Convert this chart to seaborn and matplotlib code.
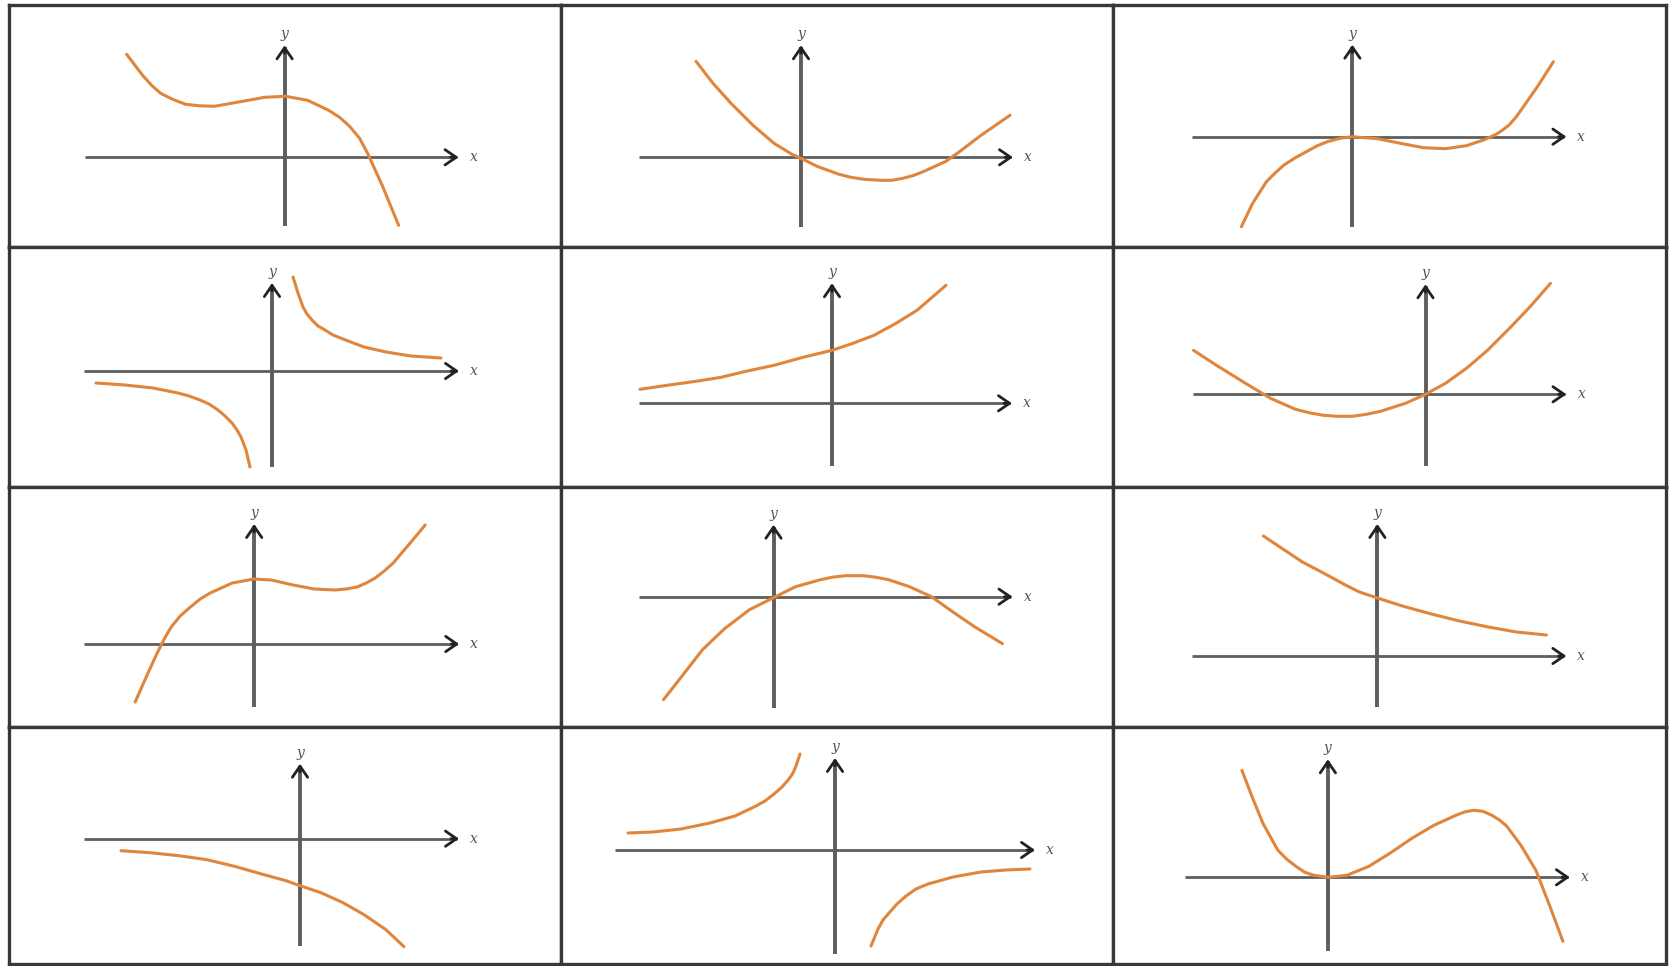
import matplotlib
matplotlib.use('Agg')
import seaborn as sns
import matplotlib.pyplot as plt

# curve values, 1 unit = 10 px, origin at the axis crossing
P1_X = [-15.8, -14.2, -13.3, -12.4, -11.2, -9.9, -8.5, -7.0, -4.2, -2.0, 0.1, 2.3, 4.4, 5.5, 6.5, 7.5, 8.3, 9.8, 11.4]
P1_Y = [10.3, 8.2, 7.2, 6.4, 5.8, 5.3, 5.15, 5.1, 5.6, 6.0, 6.1, 5.7, 4.7, 4.0, 3.1, 1.9, 0.4, -2.9, -6.8]

P2_X = [-10.5, -8.8, -7.0, -4.8, -2.7, -0.9, 0.0, 1.6, 3.8, 5.0, 6.3, 8.0, 9.1, 10.2, 11.3, 12.3, 14.5, 15.9, 18.0, 20.9]
P2_Y = [9.6, 7.4, 5.4, 3.2, 1.4, 0.3, -0.1, -0.9, -1.7, -2.0, -2.2, -2.3, -2.3, -2.1, -1.8, -1.4, -0.4, 0.6, 2.2, 4.2]

P3_X = [-11.1, -10.0, -8.6, -7.7, -6.8, -5.7, -4.6, -3.5, -2.5, -1.2, 0.0, 2.5, 5.0, 7.1, 9.3, 11.4,
        13.2, 14.3, 15.0, 15.7, 16.4, 17.1, 18.5, 20.1]
P3_Y = [-9.0, -6.7, -4.5, -3.6, -2.8, -2.1, -1.5, -0.9, -0.5, -0.15, 0.0, -0.2, -0.7, -1.1, -1.2, -0.9,
        -0.3, 0.2, 0.65, 1.2, 2.0, 3.0, 5.0, 7.5]

P4_LEFT_X = [-17.6, -14.7, -11.9, -9.4, -8.3, -7.2, -6.3, -5.4, -4.7, -4.0, -3.5, -3.1, -2.6, -2.2]
P4_LEFT_Y = [-1.2, -1.4, -1.7, -2.2, -2.5, -2.9, -3.3, -3.9, -4.5, -5.2, -5.9, -6.6, -7.9, -9.6]
P4_RIGHT_X = [2.1, 2.6, 3.1, 3.5, 4.0, 4.6, 5.3, 6.1, 7.1, 9.2, 11.4, 13.9, 16.9]
P4_RIGHT_Y = [9.4, 7.8, 6.4, 5.7, 5.1, 4.5, 4.1, 3.6, 3.2, 2.4, 1.9, 1.5, 1.3]

P5_X = [-19.2, -16.5, -13.6, -11.1, -8.6, -5.8, -2.9, 0.0, 2.1, 4.2, 6.4, 8.5, 9.9, 11.4]
P5_Y = [1.4, 1.8, 2.2, 2.6, 3.2, 3.8, 4.6, 5.3, 6.0, 6.8, 8.0, 9.3, 10.5, 11.8]

P6_X = [-23.2, -20.9, -18.0, -15.5, -13.0, -11.6, -10.2, -8.8, -7.3, -5.9, -4.5, -2.0, 0.0, 2.0, 4.1,
        6.2, 8.4, 10.5, 12.5]
P6_Y = [4.4, 2.9, 1.1, -0.4, -1.5, -1.85, -2.1, -2.2, -2.2, -2.0, -1.7, -0.9, 0.0, 1.1, 2.6,
        4.4, 6.6, 8.8, 11.1]

P7_X = [-11.9, -10.8, -9.7, -9.0, -8.3, -7.4, -6.5, -5.4, -4.4, -2.2, 0.0, 1.7, 3.9, 6.0, 8.1, 9.2,
        10.3, 11.2, 12.1, 13.0, 13.9, 15.6, 17.1]
P7_Y = [-5.8, -3.3, -0.9, 0.5, 1.7, 2.8, 3.6, 4.5, 5.1, 6.1, 6.5, 6.4, 5.9, 5.5, 5.4, 5.5,
        5.7, 6.1, 6.6, 7.3, 8.1, 10.1, 11.9]

P8_X = [-11.0, -9.2, -7.1, -4.9, -2.4, 0.0, 2.2, 4.7, 5.9, 7.2, 9.0, 10.2, 11.5, 13.6, 15.8, 17.9, 20.1, 22.9]
P8_Y = [-10.3, -8.0, -5.3, -3.2, -1.3, -0.1, 1.0, 1.7, 1.95, 2.1, 2.1, 1.95, 1.7, 1.0, 0.0, -1.5, -3.0, -4.7]

P9_X = [-11.4, -9.6, -7.5, -5.4, -3.2, -1.8, 0.0, 2.5, 5.4, 8.2, 11.1, 13.9, 16.9]
P9_Y = [12.0, 10.8, 9.4, 8.3, 7.1, 6.4, 5.8, 5.0, 4.2, 3.5, 2.9, 2.4, 2.1]

P10_X = [-17.9, -15.0, -12.1, -9.3, -6.4, -3.6, -1.4, 0.0, 2.1, 4.3, 6.4, 8.6, 10.4]
P10_Y = [-1.2, -1.4, -1.7, -2.1, -2.8, -3.6, -4.2, -4.7, -5.4, -6.4, -7.6, -9.1, -10.8]

P11_LEFT_X = [-20.7, -18.2, -15.4, -12.5, -10.0, -7.9, -7.0, -6.1, -5.3, -4.6, -4.2, -3.9, -3.5]
P11_LEFT_Y = [1.7, 1.8, 2.1, 2.7, 3.4, 4.4, 4.9, 5.6, 6.3, 7.1, 7.7, 8.4, 9.6]
P11_RIGHT_X = [3.6, 4.3, 4.8, 5.4, 6.2, 7.1, 8.1, 9.3, 11.8, 14.6, 17.1, 19.5]
P11_RIGHT_Y = [-9.6, -7.9, -7.0, -6.3, -5.4, -4.6, -3.9, -3.4, -2.7, -2.2, -2.0, -1.9]

P12_X = [-8.6, -7.6, -6.5, -5.0, -4.1, -3.2, -2.3, -1.4, 0.0, 1.9, 4.1, 6.2, 8.4, 10.6, 12.8, 13.7,
         14.6, 15.5, 16.4, 17.2, 17.9, 19.3, 20.8, 22.2, 23.5]
P12_Y = [10.7, 8.1, 5.4, 2.7, 1.8, 1.1, 0.5, 0.2, 0.0, 0.2, 1.1, 2.4, 3.9, 5.2, 6.2, 6.55,
         6.7, 6.6, 6.2, 5.7, 5.1, 3.2, 0.7, -2.9, -6.4]

PANELS = [
    [(P1_X, P1_Y)], [(P2_X, P2_Y)], [(P3_X, P3_Y)],
    [(P4_LEFT_X, P4_LEFT_Y), (P4_RIGHT_X, P4_RIGHT_Y)], [(P5_X, P5_Y)], [(P6_X, P6_Y)],
    [(P7_X, P7_Y)], [(P8_X, P8_Y)], [(P9_X, P9_Y)],
    [(P10_X, P10_Y)], [(P11_LEFT_X, P11_LEFT_Y), (P11_RIGHT_X, P11_RIGHT_Y)], [(P12_X, P12_Y)],
]

# layout (pixels)
W, H = 1669, 966
PX = 10
COL_EDGES = [9, 561, 1113, 1666]
ROW_EDGES = [5, 247, 487, 727, 964]
ORIGINS = [(284.6, 157.3), (801, 157.3), (1352.4, 136.7),
           (272, 371), (832, 403.3), (1425.5, 394.3),
           (254.2, 644), (773.5, 596.7), (1377.4, 656),
           (300, 838.7), (835, 850), (1327.9, 877.3)]
# x-axis from/to, y-axis from/to, in px from the origin
AXES_EXT = [(-200, 172, -69, 110), (-162, 210, -70, 110), (-160, 212, -90, 90),
            (-188, 185, -96, 86), (-193, 178, -63, 118), (-233, 139, -72, 108),
            (-170, 203, -63, 118), (-135, 237, -111, 70), (-185, 187, -51, 130),
            (-216, 157, -107, 73), (-220, 198, -104, 90), (-143, 240, -74, 116)]

ORANGE = '#e0853c'
AXIS_GREY = '#5e5e5e'

sns.set_style('white')
fig = plt.figure(figsize=(W / 100, H / 100), dpi=100)

for i, curves in enumerate(PANELS):
    r, c = divmod(i, 3)
    x0, x1 = COL_EDGES[c], COL_EDGES[c + 1]
    y0, y1 = ROW_EDGES[r], ROW_EDGES[r + 1]
    ax = fig.add_axes([x0 / W, 1 - y1 / H, (x1 - x0) / W, (y1 - y0) / H])
    ox, oy = ORIGINS[i]
    xa, xb, ya, yb = [v / PX for v in AXES_EXT[i]]

    # coordinate axes
    ax.plot([xa, xb], [0, 0], color=AXIS_GREY, lw=2.0, solid_capstyle='butt', zorder=1)
    ax.plot([0, 0], [ya, yb], color=AXIS_GREY, lw=2.8, solid_capstyle='butt', zorder=1)
    head = dict(arrowstyle='->,head_length=0.8,head_width=0.55', color='#222222', lw=2.0,
                mutation_scale=10, shrinkA=0, shrinkB=0)
    ax.annotate('', xy=(xb + 0.2, 0), xytext=(xb - 0.6, 0), arrowprops=head, zorder=2)
    ax.annotate('', xy=(0, yb + 0.2), xytext=(0, yb - 0.6), arrowprops=head, zorder=2)
    ax.text(xb + 1.3, 0, 'x', ha='left', va='center', fontsize=10, style='italic',
            family='DejaVu Serif', color='#555555')
    ax.text(0, yb + 0.6, 'y', ha='center', va='bottom', fontsize=10, style='italic',
            family='DejaVu Serif', color='#555555')

    for xs, ys in curves:
        sns.lineplot(x=xs, y=ys, ax=ax, color=ORANGE, linewidth=2.2,
                     estimator=None, zorder=3,
                     solid_joinstyle='round', solid_capstyle='round')

    ax.set_xlim((x0 - ox) / PX, (x1 - ox) / PX)
    ax.set_ylim((oy - y1) / PX, (oy - y0) / PX)
    ax.set_xticks([])
    ax.set_yticks([])
    ax.set_xlabel('')
    ax.set_ylabel('')
    for s in ax.spines.values():
        s.set_linewidth(2.4)
        s.set_color('#383838')

fig.savefig('out.png', dpi=100)
